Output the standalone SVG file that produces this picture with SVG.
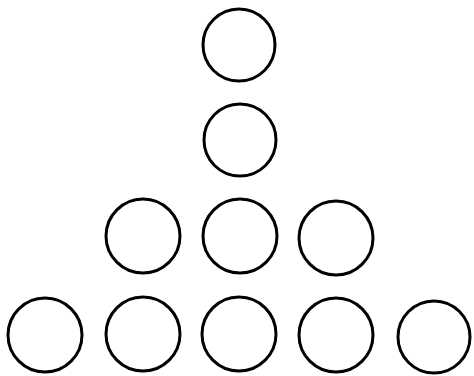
<svg xmlns="http://www.w3.org/2000/svg" width="474" height="376" viewBox="0 0 474 376">
<style>.c{fill:none;stroke:#000;stroke-width:3}</style>
<rect width="474" height="376" fill="#fff"/>
<g id="n1"><circle class="c" cx="239" cy="45" r="36"/></g>
<g id="n2"><circle class="c" cx="240" cy="140" r="36"/></g>
<g id="n3"><circle class="c" cx="143" cy="236" r="37"/></g>
<g id="n4"><circle class="c" cx="240" cy="236" r="37"/></g>
<g id="n5"><circle class="c" cx="336" cy="238" r="37"/></g>
<g id="n6"><circle class="c" cx="45" cy="335" r="37"/></g>
<g id="n7"><circle class="c" cx="143" cy="334" r="37"/></g>
<g id="n8"><circle class="c" cx="239" cy="334" r="37"/></g>
<g id="n9"><circle class="c" cx="336" cy="335" r="37"/></g>
<g id="n10"><circle class="c" cx="434" cy="337" r="36"/></g>
</svg>
